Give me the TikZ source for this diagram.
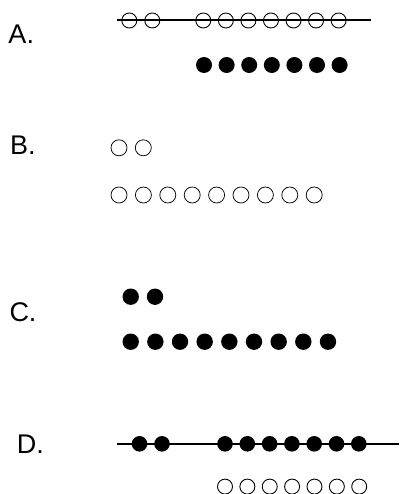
\documentclass[tikz,border=0pt]{standalone}
\usepackage{fontspec}
\setmainfont{Liberation Sans}
\begin{document}
\begin{tikzpicture}[x=1pt,y=-1pt,
  hollow/.style={circle, draw, line width=0.9pt, minimum size=15pt, inner sep=0pt},
  thin hollow/.style={hollow, line width=0.75pt, minimum size=16pt},
  solid dot/.style={circle, fill, minimum size=16pt, inner sep=0pt},
  lbl/.style={anchor=base west, inner sep=0pt, font=\fontsize{27}{27}\selectfont},
  rod/.style={line width=1.9pt}]
\useasboundingbox (0,0) rectangle (401,494);

% ---- A ----
\node[lbl] (labA) at (8.3,43.5) {A.};
\coordinate (aL) at (117.3,19.7);
\coordinate (aR) at (371,19.7);
\foreach \x [count=\i] in {129.3,152.3}
  \node[hollow] (a\i) at (\x,20.5) {};
\foreach \k in {0,...,6}
  \node[hollow] (ab\k) at ({203.3+22.55*\k},20.5) {};
\draw[rod] (aL) -- (aR);
\foreach \k in {0,...,6}
  \node[solid dot] (af\k) at ({204+22.6*\k},65) {};

% ---- B ----
\node[lbl] (labB) at (10,155) {B.};
\foreach \x [count=\i] in {119,143.3}
  \node[thin hollow] (b\i) at (\x,147.8) {};
\foreach \k in {0,...,8}
  \node[thin hollow] (bb\k) at ({119+24.4*\k},195) {};

% ---- C ----
\node[lbl] (labC) at (9.3,321.7) {C.};
\foreach \x [count=\i] in {130.7,155}
  \node[solid dot, minimum size=16.4pt] (c\i) at (\x,296.7) {};
\foreach \k in {0,...,8}
  \node[solid dot, minimum size=16.4pt] (cb\k) at ({130.7+24.66*\k},341.7) {};

% ---- D ----
\node[lbl] (labD) at (16.7,453.3) {D.};
\coordinate (dL) at (117.3,444);
\coordinate (dR) at (399.3,444);
\draw[rod] (dL) -- (dR);
\foreach \x [count=\i] in {139.5,162}
  \node[solid dot, minimum size=15.6pt] (d\i) at (\x,443.8) {};
\foreach \k in {0,...,6}
  \node[solid dot, minimum size=15.6pt] (dd\k) at ({225+22.3*\k},443.8) {};
\foreach \k in {0,...,6}
  \node[hollow] (dh\k) at ({225+22.37*\k},486.6) {};
\end{tikzpicture}
\end{document}
